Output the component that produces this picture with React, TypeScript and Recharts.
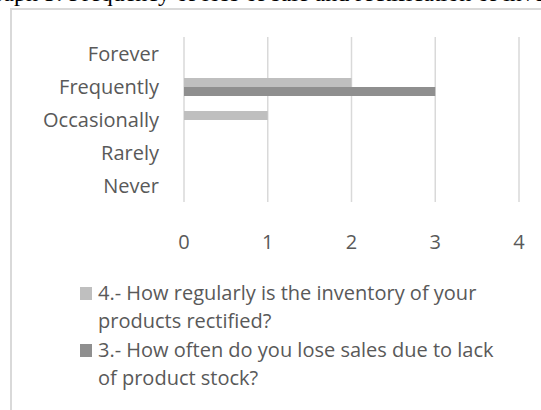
import { BarChart, Bar, XAxis, YAxis, CartesianGrid, Legend } from "recharts"

const categories = ["Forever", "Frequently", "Occasionally", "Rarely", "Never"]
const rectifiedValues = [0, 2, 1, 0, 0]
const lostSalesValues = [0, 3, 0, 0, 0]
const xTicks = [0, 1, 2, 3, 4]

const seriesRectified = "4.- How regularly is the inventory of your products rectified?"
const seriesLostSales = "3.- How often do you lose sales due to lack of product stock?"

const data = categories.map((name, i) => ({
  name,
  rectified: rectifiedValues[i],
  lostSales: lostSalesValues[i],
}))

const FONT = "'Open Sans', sans-serif"
const TEXT = "#595959"

const legendItems = [
  { color: "#BFBFBF", lines: ["4.- How regularly is the inventory of your", "products rectified?"] },
  { color: "#8F8F8F", lines: ["3.- How often do you lose sales due to lack", "of product stock?"] },
]

function ChartLegend() {
  return (
    <div style={{ fontFamily: FONT, fontSize: 20, color: TEXT, lineHeight: "28.5px" }}>
      {legendItems.map((item) => (
        <div key={item.lines[0]} style={{ position: "relative", paddingLeft: 18, whiteSpace: "nowrap" }}>
          <span
            style={{
              position: "absolute",
              left: 0,
              top: 8,
              width: 12,
              height: 13,
              background: item.color,
            }}
          />
          {item.lines.map((l) => (
            <div key={l}>{l}</div>
          ))}
        </div>
      ))}
    </div>
  )
}

export default function App() {
  return (
    <div style={{ position: "absolute", left: 0, top: 0, width: 541, height: 410, overflow: "hidden", background: "#fff" }}>
      {/* caption of the document, cut off by the crop */}
      <div
        style={{
          position: "absolute",
          left: -22,
          top: -19,
          fontFamily: "'Liberation Serif', serif",
          fontSize: 24,
          lineHeight: "24px",
          whiteSpace: "nowrap",
          color: "#000",
        }}
      >
        Graph 5: Frequency of loss of sale and rectification of inventory
      </div>
      <div
        style={{
          position: "absolute",
          left: 10,
          top: 8,
          width: 640,
          height: 500,
          border: "2px solid #D9D9D9",
        }}
      />
      <div style={{ position: "absolute", left: 0, top: 0 }}>
        <BarChart
          width={541}
          height={410}
          data={data}
          layout="vertical"
          margin={{ top: 37, right: 22, left: 0, bottom: 148 }}
          barCategoryGap="24%"
          barGap={0}
        >
          <CartesianGrid horizontal={false} stroke="#D9D9D9" strokeWidth={1.5} />
          <XAxis
            type="number"
            domain={[0, 4]}
            ticks={xTicks}
            height={60}
            axisLine={false}
            tickLine={false}
            tickMargin={27}
            tick={{ fill: TEXT, fontSize: 20, fontFamily: FONT }}
          />
          <YAxis
            type="category"
            dataKey="name"
            width={184}
            axisLine={false}
            tickLine={false}
            tickMargin={19}
            tick={{ fill: TEXT, fontSize: 20, fontFamily: FONT }}
          />
          <Bar dataKey="rectified" name={seriesRectified} fill="#BFBFBF" isAnimationActive={false} />
          <Bar dataKey="lostSales" name={seriesLostSales} fill="#8F8F8F" isAnimationActive={false} />
          <Legend
            layout="vertical"
            align="center"
            verticalAlign="middle"
            wrapperStyle={{ left: 80, top: 278.75, width: 440 }}
            content={() => <ChartLegend />}
          />
        </BarChart>
      </div>
    </div>
  )
}
